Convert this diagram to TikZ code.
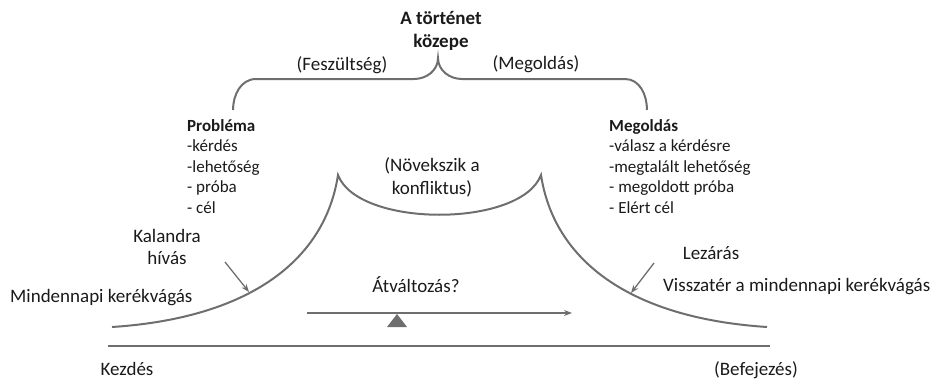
\documentclass[tikz,border=0pt]{standalone}
\usepackage{fontspec}
\setmainfont{Carlito}
\usetikzlibrary{arrows.meta}
\definecolor{linegray}{HTML}{6E6E6E}
\definecolor{txt}{HTML}{1A1A1A}
\begin{document}
\begin{tikzpicture}[x=1pt,y=-1pt,
  curve/.style={draw=linegray, line width=2pt},
  thinarrow/.style={draw=linegray, line width=1.3pt, -{Stealth[length=8pt,width=6pt]}},
  lbl/.style={font=\fontsize{19}{23}\selectfont, text=txt, inner sep=0pt},
  boldlbl/.style={font=\bfseries\fontsize{19}{23}\selectfont, text=txt, inner sep=0pt},
  listtxt/.style={font=\fontsize{17}{20.5}\selectfont, text=txt, inner sep=0pt}]
\useasboundingbox (0,0) rectangle (943,380);

% top title
\node[boldlbl, anchor=base] (mid1) at (441,24) {A történet};
\node[boldlbl, anchor=base] (mid2) at (441,47) {közepe};

% brace
\coordinate (bl) at (233,110);
\coordinate (bt) at (438,58);
\coordinate (br) at (647,110);
\draw[curve] (bl) to[out=90,in=180] (256,79) -- (414,79) to[out=0,in=-90] (bt)
  to[out=-90,in=180] (462,79) -- (625,79) to[out=0,in=90] (br);
\node[lbl, anchor=base] (fesz) at (342,70) {(Feszültség)};
\node[lbl, anchor=base] (megb) at (536,69) {(Megoldás)};

% lists
\node[listtxt, anchor=base west, font=\bfseries\fontsize{17}{20.5}\selectfont] (prob) at (187,131) {Probléma};
\node[listtxt, anchor=base west] (p1) at (187,151.5) {-kérdés};
\node[listtxt, anchor=base west] (p2) at (187,172) {-lehetőség};
\node[listtxt, anchor=base west] (p3) at (187,192.5) {- próba};
\node[listtxt, anchor=base west] (p4) at (187,213) {- cél};

\node[listtxt, anchor=base west, font=\bfseries\fontsize{17}{20.5}\selectfont] (meg) at (609,131) {Megoldás};
\node[listtxt, anchor=base west] (m1) at (609,151.5) {-válasz a kérdésre};
\node[listtxt, anchor=base west] (m2) at (609,172) {-megtalált lehetőség};
\node[listtxt, anchor=base west] (m3) at (609,192.5) {- megoldott próba};
\node[listtxt, anchor=base west] (m4) at (609,213) {- Elért cél};

% middle text
\node[lbl, anchor=base] (nov1) at (432,171) {(Növekszik a};
\node[lbl, anchor=base] (nov2) at (432,194) {konfliktus)};

% main curve
\coordinate (s) at (112,327);
\coordinate (c1) at (338,175);
\coordinate (c2) at (541,175);
\coordinate (e) at (767,327);
\draw[curve] (s) .. controls (250,318) and (325,260) .. (c1)
  .. controls (358,228) and (521,228) .. (c2)
  .. controls (554,260) and (629,318) .. (e);

% baseline
\coordinate (gl) at (108,346);
\coordinate (gr) at (770,346);
\draw[curve] (gl) -- (gr);

% left labels
\node[lbl, anchor=base] (kal1) at (167,242) {Kalandra};
\node[lbl, anchor=base] (kal2) at (167,264) {hívás};
\node[lbl, anchor=base west] (mind) at (10,302) {Mindennapi kerékvágás};
\coordinate (ka0) at (225,262);
\coordinate (ka1) at (249,292);
\draw[thinarrow] (ka0) -- (ka1);

% right labels
\node[lbl, anchor=base] (lez) at (711,259) {Lezárás};
\node[lbl, anchor=base west] (vissz) at (663,291) {Visszatér a mindennapi kerékvágás};
\coordinate (la0) at (654,263);
\coordinate (la1) at (631,293);
\draw[thinarrow] (la0) -- (la1);

% transformation
\node[lbl, anchor=base] (atv) at (416,292) {Átváltozás?};
\coordinate (ta0) at (307,313);
\coordinate (ta1) at (572,313);
\draw[thinarrow] (ta0) -- (ta1);
\fill[linegray] (397,314) -- (407,327) -- (387,327) -- cycle;

% bottom
\node[lbl, anchor=base] (kezd) at (127,375) {Kezdés};
\node[lbl, anchor=base] (bef) at (756,375) {(Befejezés)};
\end{tikzpicture}
\end{document}
